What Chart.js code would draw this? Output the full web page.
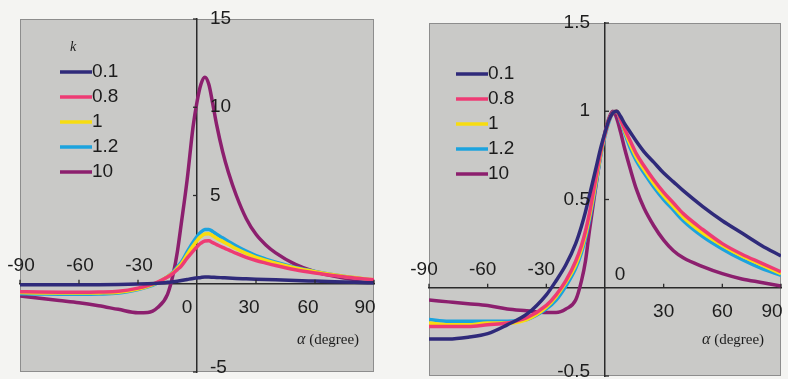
<!DOCTYPE html>
<html>
<head>
<meta charset="utf-8">
<script src="https://cdn.jsdelivr.net/npm/chart.js@4.4.0/dist/chart.umd.min.js"></script>
<style>
  html, body { margin: 0; padding: 0; background: #f4f4f2; }
  #wrap { position: relative; width: 788px; height: 379px; }
  canvas { position: absolute; top: 0; }
  #rawChart { left: 0; }
  #normChart { left: 394px; }
</style>
</head>
<body>
<div id="wrap">
  <canvas id="rawChart" width="394" height="379"></canvas>
  <canvas id="normChart" width="394" height="379"></canvas>
</div>
<script>
// incidence angle (degree), shared by every curve
const alpha = [-90, -80, -70, -60, -50, -40, -30, -25, -20, -15, -12, -10, -8, -5, -2, 0,
  2, 4, 6, 8, 10, 13, 16, 20, 25, 30, 35, 40, 50, 60, 70, 80, 90];

const kLabels = ['0.1', '0.8', '1', '1.2', '10'];

// left panel: raw response
const rawK01 = [-0.05, -0.05, -0.05, -0.05, -0.05, -0.04, -0.02, 0.0, 0.03, 0.08, 0.11, 0.14, 0.18, 0.24, 0.3, 0.33,
  0.36, 0.38, 0.38, 0.37, 0.36, 0.34, 0.32, 0.3, 0.28, 0.26, 0.24, 0.22, 0.18, 0.15, 0.12, 0.08, 0.05];
const rawK08 = [-0.45, -0.47, -0.48, -0.48, -0.47, -0.43, -0.25, -0.1, 0.1, 0.38, 0.6, 0.8, 1.0, 1.45, 1.85, 2.1,
  2.3, 2.42, 2.43, 2.33, 2.22, 2.06, 1.92, 1.72, 1.5, 1.32, 1.17, 1.03, 0.79, 0.61, 0.46, 0.33, 0.22];
const rawK1 = [-0.5, -0.52, -0.53, -0.53, -0.52, -0.48, -0.3, -0.15, 0.07, 0.4, 0.65, 0.88, 1.12, 1.65, 2.15, 2.45,
  2.68, 2.82, 2.83, 2.72, 2.58, 2.4, 2.22, 1.98, 1.72, 1.5, 1.32, 1.16, 0.89, 0.68, 0.5, 0.35, 0.22];
const rawK12 = [-0.57, -0.58, -0.59, -0.59, -0.58, -0.53, -0.33, -0.18, 0.05, 0.4, 0.68, 0.95, 1.22, 1.8, 2.35, 2.68,
  2.93, 3.08, 3.08, 2.96, 2.8, 2.6, 2.4, 2.14, 1.85, 1.6, 1.4, 1.22, 0.93, 0.7, 0.5, 0.34, 0.2];
const rawK10 = [-0.7, -0.82, -0.95, -1.08, -1.25, -1.45, -1.64, -1.63, -1.35, -0.6, 0.6, 1.8, 3.4, 5.9, 8.9, 10.3,
  11.3, 11.7, 11.3, 10.2, 9.0, 7.5, 6.3, 5.0, 3.7, 2.8, 2.2, 1.75, 1.1, 0.68, 0.42, 0.24, 0.12];

// right panel: normalised by peak
const normK01 = [-0.29, -0.29, -0.28, -0.26, -0.21, -0.15, -0.04, 0.04, 0.13, 0.25, 0.35, 0.43, 0.52, 0.66, 0.8, 0.88,
  0.95, 0.99, 1.0, 0.97, 0.93, 0.88, 0.83, 0.77, 0.71, 0.65, 0.6, 0.55, 0.46, 0.38, 0.31, 0.24, 0.18];
const normK08 = [-0.22, -0.22, -0.22, -0.21, -0.2, -0.17, -0.1, -0.04, 0.04, 0.15, 0.24, 0.32, 0.42, 0.6, 0.78, 0.87,
  0.95, 0.99, 1.0, 0.95, 0.9, 0.83, 0.76, 0.69, 0.61, 0.54, 0.48, 0.42, 0.33, 0.25, 0.19, 0.14, 0.09];
const normK1 = [-0.2, -0.21, -0.21, -0.2, -0.2, -0.18, -0.11, -0.05, 0.03, 0.13, 0.22, 0.3, 0.4, 0.58, 0.77, 0.87,
  0.95, 0.99, 1.0, 0.95, 0.89, 0.81, 0.74, 0.67, 0.59, 0.52, 0.46, 0.4, 0.31, 0.24, 0.18, 0.13, 0.08];
const normK12 = [-0.18, -0.19, -0.19, -0.19, -0.19, -0.18, -0.12, -0.07, 0.01, 0.11, 0.2, 0.28, 0.38, 0.56, 0.76, 0.86,
  0.94, 0.99, 1.0, 0.94, 0.88, 0.79, 0.72, 0.65, 0.57, 0.5, 0.44, 0.38, 0.29, 0.22, 0.16, 0.11, 0.07];
const normK10 = [-0.07, -0.08, -0.09, -0.1, -0.12, -0.13, -0.14, -0.14, -0.12, -0.07, 0.04, 0.15, 0.32, 0.55, 0.77, 0.88,
  0.96, 1.0, 0.96, 0.88, 0.79, 0.67, 0.56, 0.45, 0.35, 0.27, 0.21, 0.17, 0.12, 0.08, 0.05, 0.03, 0.01];

const xTickValues = [-90, -60, -30, 0, 30, 60, 90];
const rawYTicks = [15, 10, 5, -5];
const normYTicks = [1.5, 1, 0.5, -0.5];

const lineColors = ['#2f2a7a', '#ee3b74', '#f7dc10', '#1ca3de', '#8c1f6e'];
const INK = '#1c1c1c';
const NUM_FONT = '19px "Liberation Sans", Arial, sans-serif';

function toPoints(ys) {
  return alpha.map((a, i) => ({ x: a, y: ys[i] }));
}

function makeDatasets(series) {
  return series.map((ys, i) => ({
    label: kLabels[i],
    data: toPoints(ys),
    borderColor: lineColors[i],
    borderWidth: 3.5,
    pointRadius: 0,
    cubicInterpolationMode: 'monotone',
    fill: false
  }));
}

// grey plot panel, tick marks, hand-placed tick labels and the inline legend
function decorPlugin(cfg) {
  return {
    id: 'decor',
    beforeDraw(chart) {
      const { ctx, chartArea: a } = chart;
      ctx.save();
      ctx.fillStyle = '#c9c9c7';
      ctx.fillRect(a.left, a.top, a.right - a.left, a.bottom - a.top);
      ctx.strokeStyle = '#8d8d8d';
      ctx.lineWidth = 1;
      ctx.strokeRect(a.left + 0.5, a.top + 0.5, a.right - a.left - 1, a.bottom - a.top - 1);
      ctx.restore();
    },
    afterDraw(chart) {
      const { ctx, chartArea: a } = chart;
      const xs = chart.scales.x, ys = chart.scales.y;
      const axisY = ys.getPixelForValue(0);
      const axisX = xs.getPixelForValue(0);
      ctx.save();
      ctx.strokeStyle = '#2a2a2a';
      ctx.lineWidth = 1.3;
      ctx.fillStyle = INK;
      ctx.font = NUM_FONT;
      ctx.textBaseline = 'middle';

      // x ticks and labels
      xTickValues.forEach(v => {
        const px = xs.getPixelForValue(v);
        if (v !== 0) {
          ctx.beginPath();
          ctx.moveTo(px, axisY);
          ctx.lineTo(px, axisY - 4);
          ctx.stroke();
        }
        ctx.textAlign = 'center';
        if (v === 0) {
          ctx.fillText('0', axisX + cfg.zeroDx, axisY + cfg.zeroDy);
        } else if (v < 0) {
          ctx.fillText(String(v), px + cfg.xNegDx, axisY + cfg.xNegDy);
        } else {
          ctx.fillText(String(v), Math.min(px + cfg.xPosDx, a.right - 9), axisY + cfg.xPosDy);
        }
      });

      // y ticks and labels
      cfg.yTicks.forEach(v => {
        const py = ys.getPixelForValue(v);
        ctx.beginPath();
        ctx.moveTo(axisX, py);
        ctx.lineTo(axisX + 4 * cfg.yTickDir, py);
        ctx.stroke();
        ctx.textAlign = cfg.yAlign;
        ctx.fillText(String(v), axisX + cfg.yDx, Math.min(py, a.bottom - 4));
      });

      // axis caption
      ctx.textAlign = 'left';
      ctx.font = 'italic 16px "Liberation Serif", serif';
      ctx.fillText('\u03b1', cfg.unitX, cfg.unitY);
      const aw = ctx.measureText('\u03b1').width;
      ctx.font = '15px "Liberation Serif", serif';
      ctx.fillText(' (degree)', cfg.unitX + aw, cfg.unitY);

      // legend
      if (cfg.title) {
        ctx.font = 'italic 14px "Liberation Serif", serif';
        ctx.fillText(cfg.title, cfg.titleX, cfg.titleY);
      }
      ctx.font = NUM_FONT;
      chart.data.datasets.forEach((ds, i) => {
        const y = cfg.legendY + i * 25;
        ctx.strokeStyle = ds.borderColor;
        ctx.lineWidth = 3.5;
        ctx.beginPath();
        ctx.moveTo(cfg.legendX, y);
        ctx.lineTo(cfg.legendX + 32, y);
        ctx.stroke();
        ctx.fillStyle = INK;
        ctx.fillText(ds.label, cfg.legendX + 32, y);
      });
      ctx.restore();
    }
  };
}

function makeChart(id, series, yMin, yMax, padding, cfg) {
  const ctx = document.getElementById(id).getContext('2d');
  return new Chart(ctx, {
    type: 'line',
    data: { datasets: makeDatasets(series) },
    options: {
      responsive: false,
      animation: false,
      layout: { padding: padding },
      plugins: { legend: { display: false }, tooltip: { enabled: false } },
      scales: {
        x: {
          type: 'linear', min: -90, max: 90,
          position: { y: 0 },
          grid: { display: false },
          ticks: { display: false },
          border: { display: true, color: '#2a2a2a', width: 1.5 }
        },
        y: {
          type: 'linear', min: yMin, max: yMax,
          position: { x: 0 },
          grid: { display: false },
          ticks: { display: false },
          border: { display: true, color: '#2a2a2a', width: 1.5 }
        }
      }
    },
    plugins: [decorPlugin(cfg)]
  });
}

makeChart('rawChart', [rawK01, rawK08, rawK1, rawK12, rawK10], -5, 15,
  { left: 20, right: 20, top: 19, bottom: 7 },
  {
    yTicks: rawYTicks, yTickDir: -1, yAlign: 'left', yDx: 13,
    xNegDx: 1, xNegDy: -18, xPosDx: -7, xPosDy: 24, zeroDx: -10, zeroDy: 24,
    legendX: 60, legendY: 72, title: 'k', titleX: 70, titleY: 47,
    unitX: 297, unitY: 340
  });

makeChart('normChart', [normK01, normK08, normK1, normK12, normK10], -0.5, 1.5,
  { left: 35, right: 7, top: 23, bottom: 3 },
  {
    yTicks: normYTicks, yTickDir: 1, yAlign: 'right', yDx: -15,
    xNegDx: -5, xNegDy: -18, xPosDx: 0, xPosDy: 24, zeroDx: 15, zeroDy: -13,
    legendX: 62, legendY: 74, title: null,
    unitX: 308, unitY: 340
  });
</script>
</body>
</html>
